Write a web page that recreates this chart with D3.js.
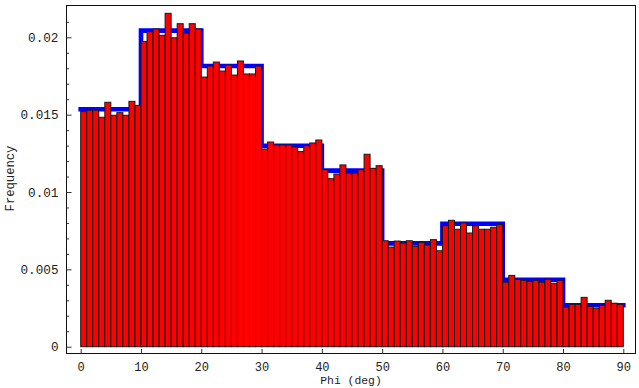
<!DOCTYPE html>
<html>
<head>
<meta charset="utf-8">
<script src="https://cdn.jsdelivr.net/npm/d3@7"></script>
<style>
  html, body { margin: 0; padding: 0; background: #fff; }
  svg { display: block; }
  text { font-family: "Liberation Mono", "DejaVu Sans Mono", monospace; fill: #222; }
</style>
</head>
<body>
<svg id="chart" width="639" height="388"></svg>
<script>
// Histogram of Phi (1-degree bins from 0 to 90)
const binWidth = 1;
const frequency = [
  0.01520, 0.01528, 0.01528, 0.01483, 0.01580, 0.01496, 0.01513, 0.01496, 0.01586, 0.01560,
  0.01972, 0.02036, 0.02054, 0.02013, 0.02155, 0.01997, 0.02088, 0.02026, 0.02088, 0.02054,
  0.01743, 0.01814, 0.01840, 0.01782, 0.01821, 0.01756, 0.01847, 0.01763, 0.01763, 0.01814,
  0.01278, 0.01323, 0.01304, 0.01304, 0.01304, 0.01291, 0.01261, 0.01299, 0.01317, 0.01336,
  0.01144, 0.01086, 0.01116, 0.01175, 0.01121, 0.01121, 0.01144, 0.01244, 0.01153, 0.01170,
  0.00685, 0.00644, 0.00683, 0.00670, 0.00685, 0.00648, 0.00674, 0.00657, 0.00692, 0.00620,
  0.00782, 0.00817, 0.00759, 0.00800, 0.00735, 0.00782, 0.00759, 0.00759, 0.00772, 0.00789,
  0.00416, 0.00461, 0.00436, 0.00429, 0.00423, 0.00429, 0.00416, 0.00436, 0.00410, 0.00429,
  0.00255, 0.00274, 0.00274, 0.00319, 0.00261, 0.00248, 0.00268, 0.00300, 0.00281, 0.00274
];

// Blue step curve (10-degree segments)
const stepStarts = [0, 10, 20, 30, 40, 50, 60, 70, 80];
const stepLevels = [0.01535, 0.02043, 0.01814, 0.01299, 0.01138, 0.00668, 0.00795, 0.00433, 0.00268];
const stepEnd = 90;

const xTicks = [0, 10, 20, 30, 40, 50, 60, 70, 80, 90];
const yTicks = [0, 0.005, 0.01, 0.015, 0.02];
const yTickLabels = ["0", "0.005", "0.01", "0.015", "0.02"];
const yMinorTicks = [0.001,0.002,0.003,0.004,0.006,0.007,0.008,0.009,0.011,0.012,0.013,0.014,0.016,0.017,0.018,0.019,0.021];

const xTitle = "Phi (deg)";
const yTitle = "Frequency";

const svg = d3.select("#chart");
const frame = { left: 66.5, right: 635.5, top: 5.5, bottom: 353.5 };

const x = d3.scaleLinear().domain([0, 90]).range([80.7, 623.3]);
const y = d3.scaleLinear().domain([0, 0.02]).range([346.7, 37.3]);

// Blue step line (behind bars)
const pts = stepStarts.map((s, i) => [s, stepLevels[i]]);
pts.push([stepEnd, stepLevels[stepLevels.length - 1]]);
const line = d3.line().x(d => x(d[0])).y(d => y(d[1])).curve(d3.curveStepAfter);
svg.append("path")
  .attr("d", line(pts))
  .attr("fill", "none")
  .attr("stroke", "#0000ff")
  .attr("stroke-width", 4.6)
  .attr("stroke-linecap", "square")
  .attr("stroke-linejoin", "miter");

// Bars
svg.append("g").selectAll("rect")
  .data(frequency)
  .join("rect")
  .attr("x", (d, i) => x(i * binWidth))
  .attr("width", (d, i) => x((i + 1) * binWidth) - x(i * binWidth))
  .attr("y", d => y(d))
  .attr("height", d => y(0) - y(d))
  .attr("fill", "#ff0000")
  .attr("stroke", "#1a1a1a")
  .attr("stroke-width", 1);

// Frame
svg.append("rect")
  .attr("x", frame.left).attr("y", frame.top)
  .attr("width", frame.right - frame.left)
  .attr("height", frame.bottom - frame.top)
  .attr("fill", "none")
  .attr("stroke", "#111")
  .attr("stroke-width", 1);

// Y axis ticks (inward) and labels
const yAxis = d3.axisRight(y).tickValues(yTicks).tickSize(5).tickFormat((d, i) => yTickLabels[i]);
const gy = svg.append("g").attr("transform", `translate(${frame.left},0)`).call(yAxis);
gy.select(".domain").remove();
gy.selectAll(".tick line").attr("stroke", "#333");
gy.selectAll(".tick text")
  .attr("x", -8).attr("text-anchor", "end")
  .style("font-family", "'Liberation Mono', monospace").style("font-size", "12.7px").attr("fill", "#222");

const gym = svg.append("g").attr("transform", `translate(${frame.left},0)`)
  .call(d3.axisRight(y).tickValues(yMinorTicks).tickSize(2.5).tickFormat(""));
gym.select(".domain").remove();
gym.selectAll(".tick line").attr("stroke", "#333");

// X axis ticks (inward) and labels
const xAxis = d3.axisTop(x).tickValues(xTicks).tickSize(4.5).tickFormat(d3.format("d"));
const gx = svg.append("g").attr("transform", `translate(0,${frame.bottom})`).call(xAxis);
gx.select(".domain").remove();
gx.selectAll(".tick line").attr("stroke", "#333");
gx.selectAll(".tick text")
  .attr("y", 17.9).attr("dy", 0)
  .style("font-family", "'Liberation Mono', monospace").style("font-size", "12px").attr("fill", "#222");

// Titles
svg.append("text")
  .attr("x", (frame.left + frame.right) / 2)
  .attr("y", 384.4)
  .attr("text-anchor", "middle")
  .style("font-size", "11.4px")
  .text(xTitle);

svg.append("text")
  .attr("transform", `translate(13.5,${(frame.top + frame.bottom) / 2 - 1}) rotate(-90)`)
  .attr("text-anchor", "middle")
  .style("font-size", "12.2px")
  .text(yTitle);
</script>
</body>
</html>
